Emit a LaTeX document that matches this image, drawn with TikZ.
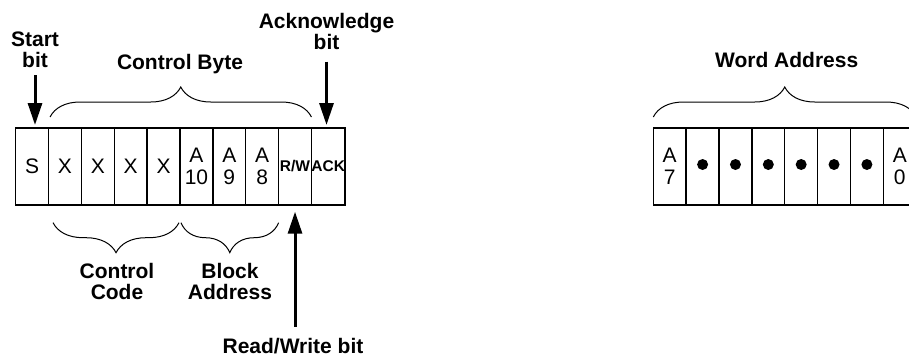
\documentclass[tikz,border=0pt]{standalone}
\usepackage{fontspec}
\setmainfont{Liberation Sans}
\usetikzlibrary{arrows.meta}
\usetikzlibrary{decorations.pathreplacing}
\usetikzlibrary{positioning}

\tikzset{
  cell/.style={draw, rectangle, line width=1.4pt, minimum width=32.86pt, minimum height=77pt, inner sep=0pt, outer sep=0pt, align=center, font=\fontsize{21}{22}\selectfont},
  smallcell/.style={cell, font=\fontsize{15.5}{16}\selectfont\bfseries},
  caption/.style={align=center, inner sep=1pt, font=\fontsize{21}{21}\selectfont\bfseries},
  bitarrow/.style={-{Triangle[width=14pt,length=22pt]}, line width=3pt},
  highbrace/.style={decorate, decoration={brace, amplitude=30pt}, line width=1pt},
  lowbrace/.style={decorate, decoration={brace, mirror, amplitude=30pt}, line width=1pt}
}

\begin{document}
\begin{tikzpicture}[x=1pt, y=-1pt]
			\useasboundingbox (0,0) rectangle (909,360);
			% control byte
			\node[cell] (S) at (32.13,166.5) {S};
			\node[cell, right=0pt of S] (X1) {X};
			\node[cell, right=0pt of X1] (X2) {X};
			\node[cell, right=0pt of X2] (X3) {X};
			\node[cell, right=0pt of X3] (X4) {X};
			\node[cell, right=0pt of X4] (A10) {A\\10};
			\node[cell, right=0pt of A10] (A9) {A\\9};
			\node[cell, right=0pt of A9] (A8) {A\\8};
			\node[smallcell, right=0pt of A8] (RW) {R/W};
			\node[smallcell, right=0pt of RW] (ACK) {ACK};
			% word address
			\node[cell] (W7) at (669.73,166.5) {A\\7};
			\node[cell, right=0pt of W7] (W6) {};
			\node[cell, right=0pt of W6] (W5) {};
			\node[cell, right=0pt of W5] (W4) {};
			\node[cell, right=0pt of W4] (W3) {};
			\node[cell, right=0pt of W3] (W2) {};
			\node[cell, right=0pt of W2] (W1) {};
			\node[cell, right=0pt of W1] (W0) {A\\0};
			\fill ([yshift=2pt]W6.center) circle[radius=5.5pt];
			\fill ([yshift=2pt]W5.center) circle[radius=5.5pt];
			\fill ([yshift=2pt]W4.center) circle[radius=5.5pt];
			\fill ([yshift=2pt]W3.center) circle[radius=5.5pt];
			\fill ([yshift=2pt]W2.center) circle[radius=5.5pt];
			\fill ([yshift=2pt]W1.center) circle[radius=5.5pt];
			% labels above
			\node[caption] (Start) at (35,49.9) {Start\\bit};
			\draw [bitarrow, shorten <=6pt, shorten >=3pt] (Start) -- (Start |- S.north);
			\node[caption] (Ack) at (326.5,31.2) {Acknowledge\\bit};
			\draw [bitarrow, shorten <=11pt, shorten >=3pt] (Ack) -- (Ack |- ACK.north);
			\node[caption] (CB) at (180,64) {Control Byte};
			\draw [highbrace] ([xshift=1.5pt,yshift=11pt]X1.north west) -- ([yshift=11pt]RW.north east);
			\node[caption] (WA) at (786.7,60) {Word Address};
			\draw [highbrace] ([yshift=11pt]W7.north west) -- ([yshift=11pt]W0.north east);
			% labels below
			\node[caption] (CC) at (117,281.1) {Control\\Code};
			\draw [lowbrace] ([xshift=4.5pt,yshift=-17.7pt]X1.south west) -- ([xshift=-1pt,yshift=-17.7pt]X4.south east);
			\node[caption] (BA) at (230,281.1) {Block\\Address};
			\draw [lowbrace] ([xshift=1pt,yshift=-17.7pt]A10.south west) -- ([yshift=-17.7pt]A8.south east);
			\node[caption] (RWbit) at (293,345.6) {Read/Write bit};
			\draw [bitarrow, shorten <=10pt, shorten >=6.7pt] (RW.south |- RWbit.north) -- (RW.south);
		\end{tikzpicture}
\end{document}
